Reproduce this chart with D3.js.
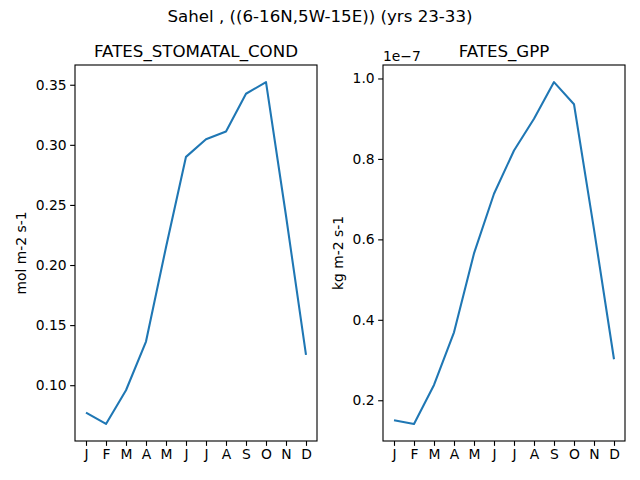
<!DOCTYPE html>
<html>
<head>
<meta charset="utf-8">
<script src="https://cdn.jsdelivr.net/npm/d3@7"></script>
<style>
  body { margin: 0; background: #fff; }
  svg { display: block; font-family: "DejaVu Sans", sans-serif; }
</style>
</head>
<body>
<div id="chart"></div>
<script>
// monthly climatology, Sahel box
const months = ["J", "F", "M", "A", "M", "J", "J", "A", "S", "O", "N", "D"];
const stomatalCond = [0.0772, 0.0678, 0.0958, 0.1363, 0.2148, 0.2900, 0.3046, 0.3111, 0.3425, 0.3522, 0.2410, 0.1252];
const gpp = [1.504e-8, 1.412e-8, 2.38e-8, 3.69e-8, 5.65e-8, 7.135e-8, 8.21e-8, 9.0e-8, 9.91e-8, 9.36e-8, 6.25e-8, 3.02e-8];
const condTicks = [0.10, 0.15, 0.20, 0.25, 0.30, 0.35];
const gppTicks = [0.2e-7, 0.4e-7, 0.6e-7, 0.8e-7, 1.0e-7];

const width = 640, height = 480;
const lineColor = "#1f77b4";
const tickFont = 13.89;
const titleFont = 16.67;

const svg = d3.select("#chart").append("svg")
    .attr("width", width)
    .attr("height", height);

svg.append("text")
    .attr("x", width / 2)
    .attr("y", 22)
    .attr("text-anchor", "middle")
    .attr("font-size", titleFont)
    .attr("fill", "#000")
    .text("Sahel , ((6-16N,5W-15E)) (yrs 23-33)");

// pad the y domain by 5% each side, like matplotlib autoscale
function padded(values) {
    const [lo, hi] = d3.extent(values);
    const m = (hi - lo) * 0.05;
    return [lo - m, hi + m];
}

function panel(opts) {
    const { left, right, top, bottom, values, ticks, fmt, title, ylabel, ylabelX, offsetText } = opts;

    const x = d3.scaleLinear().domain([-0.55, months.length - 1 + 0.55]).range([left, right]);
    const y = d3.scaleLinear().domain(padded(values)).range([bottom, top]);

    const g = svg.append("g");

    const yAxis = g.append("g")
        .attr("transform", `translate(${left},0)`)
        .call(d3.axisLeft(y).tickValues(ticks).tickFormat(fmt).tickSize(4.86).tickPadding(3.5));

    const xAxis = g.append("g")
        .attr("transform", `translate(0,${bottom})`)
        .call(d3.axisBottom(x).tickValues(d3.range(months.length)).tickFormat(i => months[i]).tickSize(4.86).tickPadding(3.5));

    for (const ax of [yAxis, xAxis]) {
        ax.select(".domain").remove();
        ax.selectAll(".tick line").attr("stroke", "#000").attr("stroke-width", 1.11);
        ax.selectAll(".tick text")
            .attr("font-size", tickFont)
            .attr("font-family", "DejaVu Sans, sans-serif")
            .attr("fill", "#000");
    }

    g.append("path")
        .datum(values)
        .attr("fill", "none")
        .attr("stroke", lineColor)
        .attr("stroke-width", 2.08)
        .attr("stroke-linejoin", "round")
        .attr("d", d3.line().x((d, i) => x(i)).y(d => y(d)));

    g.append("rect")
        .attr("x", left)
        .attr("y", top)
        .attr("width", right - left)
        .attr("height", bottom - top)
        .attr("fill", "none")
        .attr("stroke", "#000")
        .attr("stroke-width", 1.11);

    g.append("text")
        .attr("x", (left + right) / 2)
        .attr("y", top - 8.3)
        .attr("text-anchor", "middle")
        .attr("font-size", titleFont)
        .attr("fill", "#000")
        .text(title);

    g.append("text")
        .attr("transform", `translate(${ylabelX},${(top + bottom) / 2}) rotate(-90)`)
        .attr("text-anchor", "middle")
        .attr("font-size", tickFont)
        .attr("fill", "#000")
        .text(ylabel);

    if (offsetText) {
        g.append("text")
            .attr("x", left)
            .attr("y", top - 4)
            .attr("font-size", tickFont)
            .attr("fill", "#000")
            .text(offsetText);
    }
}

panel({
    left: 75, right: 317, top: 65, bottom: 441,
    values: stomatalCond,
    ticks: condTicks,
    fmt: d3.format(".2f"),
    title: "FATES_STOMATAL_COND",
    ylabel: "mol m-2 s-1",
    ylabelX: 26
});

panel({
    left: 383, right: 625, top: 65, bottom: 441,
    values: gpp,
    ticks: gppTicks,
    fmt: d => (d / 1e-7).toFixed(1),
    title: "FATES_GPP",
    ylabel: "kg m-2 s-1",
    ylabelX: 343,
    offsetText: "1e\u22127"
});
</script>
</body>
</html>
